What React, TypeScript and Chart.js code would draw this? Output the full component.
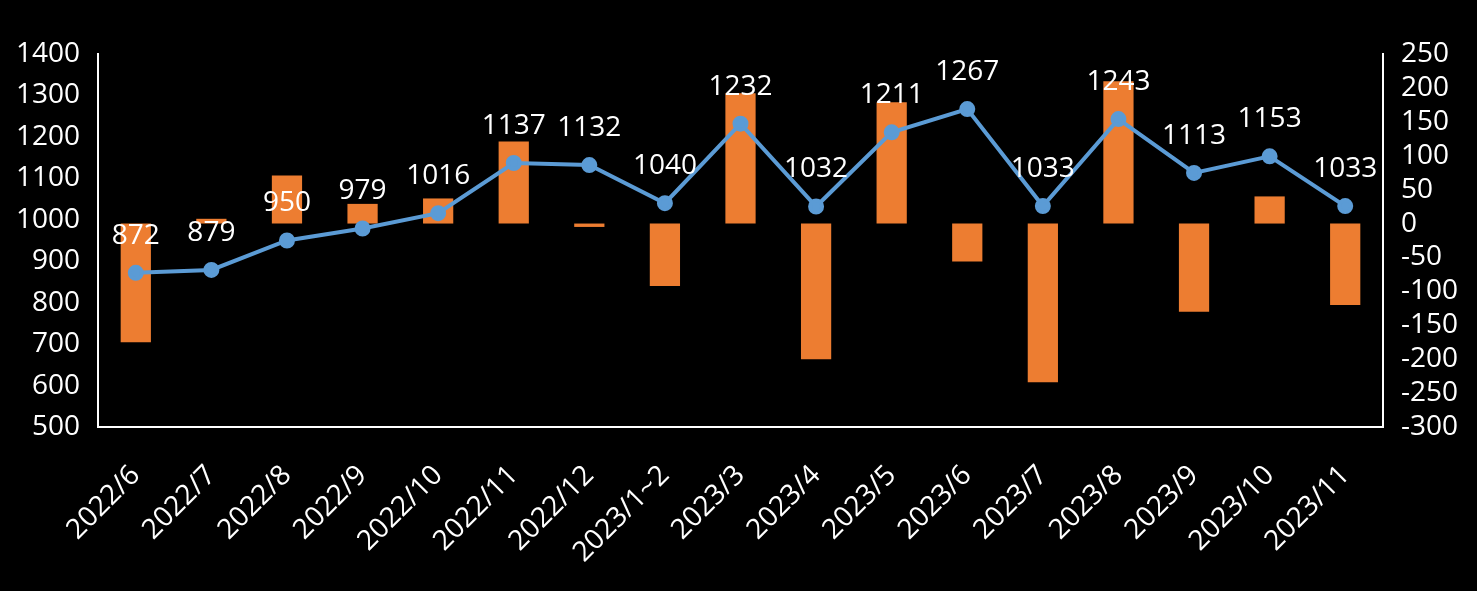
import React, { useEffect, useRef } from "react";
import { Chart, registerables } from "chart.js";

Chart.register(...registerables);

const categories = [
  "2022/6", "2022/7", "2022/8", "2022/9", "2022/10", "2022/11", "2022/12",
  "2023/1~2", "2023/3", "2023/4", "2023/5", "2023/6", "2023/7", "2023/8",
  "2023/9", "2023/10", "2023/11",
];
const indexValues = [872, 879, 950, 979, 1016, 1137, 1132, 1040, 1232, 1032, 1211, 1267, 1033, 1243, 1113, 1153, 1033];
const changeValues = [-175, 7, 71, 29, 37, 121, -5, -92, 192, -200, 179, -56, -234, 210, -130, 40, -120];

const FONT = '"Open Sans", "DejaVu Sans", sans-serif';

const labelPlugin = {
  id: "pointLabels",
  afterDatasetsDraw(chart: any) {
    const meta = chart.getDatasetMeta(0);
    const ctx = chart.ctx;
    ctx.save();
    ctx.font = `28px ${FONT}`;
    ctx.fillStyle = "#ffffff";
    ctx.textAlign = "center";
    ctx.textBaseline = "middle";
    meta.data.forEach((pt: any, i: number) => {
      ctx.fillText(String(indexValues[i]), pt.x, pt.y - 37);
    });
    ctx.restore();
  },
};

export default function App() {
  const ref = useRef<HTMLCanvasElement | null>(null);
  useEffect(() => {
    document.body.style.margin = "0";
    document.body.style.background = "#000";
    const chart = new Chart(ref.current as HTMLCanvasElement, {
      type: "bar",
      data: {
        labels: categories,
        datasets: [
          {
            type: "line",
            label: "index",
            data: indexValues,
            yAxisID: "y",
            borderColor: "#5B9BD5",
            backgroundColor: "#5B9BD5",
            borderWidth: 4,
            pointRadius: 6,
            pointBackgroundColor: "#5B9BD5",
            pointBorderColor: "#5B9BD5",
            tension: 0,
            order: 0,
          } as any,
          {
            type: "bar",
            label: "change",
            data: changeValues,
            yAxisID: "y1",
            backgroundColor: "#ED7D31",
            barPercentage: 0.4,
            categoryPercentage: 1,
            order: 1,
          },
        ],
      },
      options: {
        responsive: false,
        animation: false,
        devicePixelRatio: 1,
        layout: { padding: { top: 54, left: 0, right: 0, bottom: 0 } },
        plugins: { legend: { display: false }, tooltip: { enabled: false } },
        scales: {
          x: {
            type: "category",
            grid: { display: false },
            border: { color: "#ffffff", width: 2 },
            ticks: {
              color: "#ffffff",
              font: { family: FONT, size: 28 },
              maxRotation: 45,
              minRotation: 45,
              padding: 24,
              autoSkip: false,
            },
            afterFit: (s: any) => { s.height = 164; },
          },
          y: {
            position: "left",
            min: 500,
            max: 1400,
            grid: { display: false, drawTicks: false },
            border: { color: "#ffffff", width: 2 },
            ticks: {
              stepSize: 100,
              autoSkip: false,
              color: "#ffffff",
              font: { family: FONT, size: 28 },
              padding: 18,
              callback: (v: any) => String(v),
            },
            afterFit: (s: any) => { s.width = 98; },
          },
          y1: {
            position: "right",
            min: -300,
            max: 250,
            grid: { display: false, drawTicks: false },
            border: { color: "#ffffff", width: 2 },
            ticks: {
              stepSize: 50,
              autoSkip: false,
              color: "#ffffff",
              font: { family: FONT, size: 28 },
              padding: 18,
              callback: (v: any) => String(v),
            },
            afterFit: (s: any) => { s.width = 94; },
          },
        },
      },
      plugins: [labelPlugin],
    });
    return () => chart.destroy();
  }, []);
  return (
    <div style={{ position: "absolute", left: 0, top: 0, width: 1477, height: 591, background: "#000" }}>
      <canvas ref={ref} width={1477} height={591} style={{ display: "block", width: 1477, height: 591 }} />
    </div>
  );
}
